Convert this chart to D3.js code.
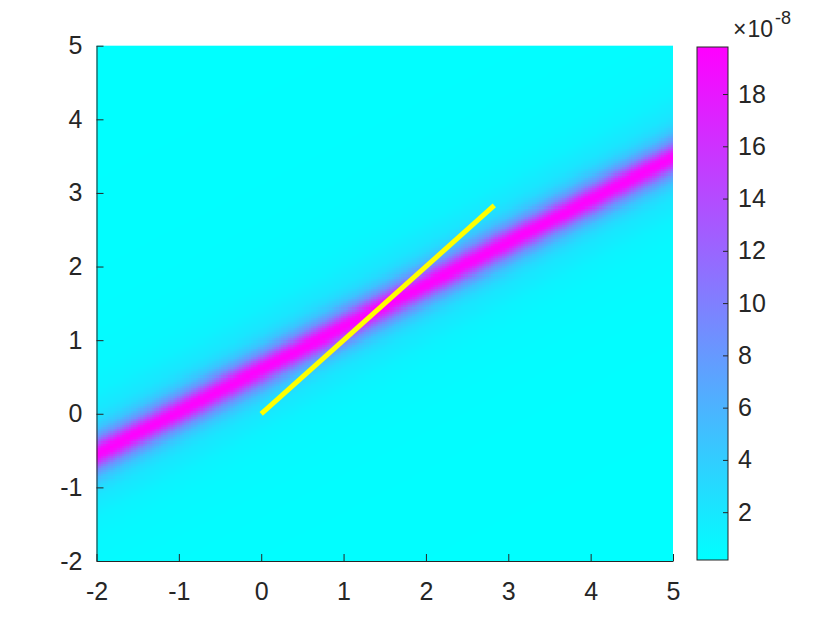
<!DOCTYPE html>
<html>
<head>
<meta charset="utf-8">
<script src="https://cdn.jsdelivr.net/npm/d3@7"></script>
<style>
  html, body { margin: 0; padding: 0; background: #fff; }
  svg { display: block; font-family: "Liberation Sans", Arial, sans-serif; }
</style>
</head>
<body>
<svg id="chart" width="840" height="630"></svg>
<script>
// axis ticks
const X_TICKS = [-2, -1, 0, 1, 2, 3, 4, 5];
const Y_TICKS = [-2, -1, 0, 1, 2, 3, 4, 5];
const CB_TICKS = [2, 4, 6, 8, 10, 12, 14, 16, 18];
const CB_RANGE = [0.17, 19.8];          // x 1e-8

// ridge of the field (two points on its centre line)
const BAND_ENDS = [[-2, -0.55], [5, 3.48]];
// cross-section of the field: perpendicular distance -> value (x 1e-8)
const PROFILE_DIST = [0, 0.05, 0.1, 0.15, 0.2, 0.3, 0.4, 0.5, 0.75, 1.0, 1.5, 2.0, 3.0, 4.0];
const PROFILE_VAL  = [19.8, 18.8, 15.5, 11.8, 8.5, 4.8, 3.0, 2.1, 1.1, 0.7, 0.42, 0.3, 0.22, 0.17];

// yellow segment
const SEG_X = [0, 2.83];
const SEG_Y = [0, 2.83];

const INK = "#262626";
const GRID_N = 250;

const svg = d3.select("#chart");
const x = d3.scaleLinear().domain([-2, 5]).range([96.5, 673]);
const y = d3.scaleLinear().domain([-2, 5]).range([561, 45.7]);

// colormap "cool"
const cool = t => d3.rgb(255 * t, 255 * (1 - t), 255);
const norm = d3.scaleLinear().domain(CB_RANGE).range([0, 1]).clamp(true);
const profile = d3.scaleLinear().domain(PROFILE_DIST).range(PROFILE_VAL).clamp(true);

// field image on an offscreen canvas
const [p0, p1] = BAND_ENDS;
const dx = p1[0] - p0[0], dy = p1[1] - p0[1];
const len = Math.hypot(dx, dy);
const cell = d3.scaleLinear().domain([0, GRID_N]).range([-2, 5]);
const canvas = document.createElement("canvas");
canvas.width = GRID_N; canvas.height = GRID_N;
const ctx = canvas.getContext("2d");
const img = ctx.createImageData(GRID_N, GRID_N);
for (let j = 0; j < GRID_N; j++) {
    const yv = cell(GRID_N - j - 0.5);
    for (let i = 0; i < GRID_N; i++) {
        const xv = cell(i + 0.5);
        const d = Math.abs((xv - p0[0]) * dy - (yv - p0[1]) * dx) / len;
        const c = cool(norm(profile(d)));
        const k = (j * GRID_N + i) * 4;
        img.data[k] = c.r; img.data[k + 1] = c.g; img.data[k + 2] = c.b; img.data[k + 3] = 255;
    }
}
ctx.putImageData(img, 0, 0);

svg.append("image")
    .attr("href", canvas.toDataURL())
    .attr("x", x(-2)).attr("y", y(5))
    .attr("width", x(5) - x(-2)).attr("height", y(-2) - y(5))
    .attr("preserveAspectRatio", "none")
    .style("image-rendering", "pixelated");

// yellow segment
svg.append("line")
    .attr("x1", x(SEG_X[0])).attr("y1", y(SEG_Y[0]))
    .attr("x2", x(SEG_X[1])).attr("y2", y(SEG_Y[1]))
    .attr("stroke", "#ffff00")
    .attr("stroke-width", 5);

// axes (ticks pointing inward, no box)
const fmt = d => String(d);
function styleAxis(g) {
    g.attr("font-size", null).attr("font-family", null);
    g.select(".domain").attr("stroke", INK).attr("stroke-width", 1);
    g.selectAll(".tick line").attr("stroke", INK).attr("stroke-width", 1);
    g.selectAll(".tick text").attr("fill", INK).style("font-size", "25px");
}

svg.append("g")
    .attr("transform", `translate(0,${y(-2)})`)
    .call(d3.axisBottom(x).tickValues(X_TICKS).tickFormat(fmt).tickSizeInner(-7).tickSizeOuter(0).tickPadding(21))
    .call(styleAxis);

svg.append("g")
    .attr("transform", `translate(${x(-2)},0)`)
    .call(d3.axisLeft(y).tickValues(Y_TICKS).tickFormat(fmt).tickSizeInner(-7).tickSizeOuter(0).tickPadding(14))
    .call(styleAxis);

// colorbar
const cbX = 697, cbW = 31;
const cy = d3.scaleLinear().domain(CB_RANGE).range([560, 47]);
const grad = svg.append("defs").append("linearGradient")
    .attr("id", "cbgrad").attr("x1", 0).attr("y1", 1).attr("x2", 0).attr("y2", 0);
grad.append("stop").attr("offset", 0).attr("stop-color", cool(0));
grad.append("stop").attr("offset", 1).attr("stop-color", cool(1));

svg.append("rect")
    .attr("x", cbX).attr("y", cy(CB_RANGE[1]))
    .attr("width", cbW).attr("height", cy(CB_RANGE[0]) - cy(CB_RANGE[1]))
    .attr("fill", "url(#cbgrad)")
    .attr("stroke", INK).attr("stroke-width", 1);

svg.append("g")
    .attr("transform", `translate(${cbX + cbW},0)`)
    .call(d3.axisRight(cy).tickValues(CB_TICKS).tickFormat(fmt).tickSizeInner(-5).tickSizeOuter(0).tickPadding(10))
    .call(styleAxis)
    .call(g => g.select(".domain").remove());

// exponent label
const expo = svg.append("text")
    .attr("x", 733).attr("y", 36.5)
    .attr("fill", INK)
    .style("font-size", "23px");
expo.append("tspan").text("\u00d7");
expo.append("tspan").attr("dx", 1).text("10");
expo.append("tspan").style("font-size", "18px").attr("dx", 2).attr("dy", -13).text("-8");
</script>
</body>
</html>
